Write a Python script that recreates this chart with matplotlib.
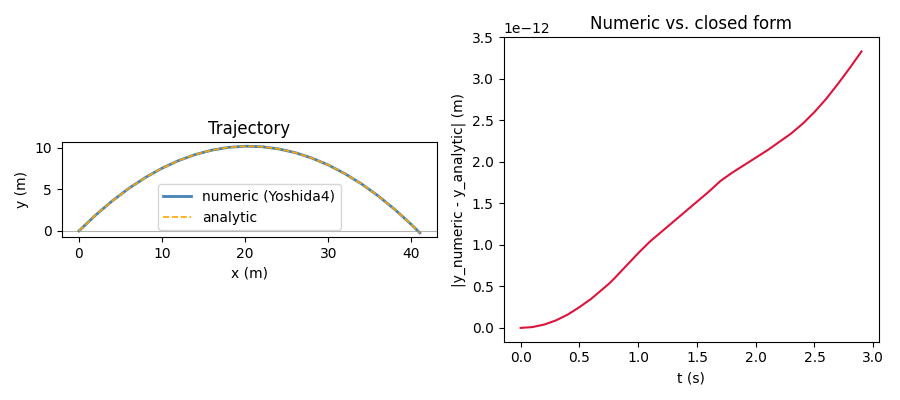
import matplotlib
matplotlib.use("Agg")
import matplotlib.pyplot as plt

# trajectory samples (m)
x_pos = [0, 2, 4, 6, 8, 10, 12, 14, 16, 18, 20, 22, 24, 26, 28, 30, 32, 34, 36, 38, 40, 41]
y_numeric = [0.0, 1.90, 3.61, 5.12, 6.43, 7.55, 8.47, 9.19, 9.72, 10.05, 10.19,
             10.13, 9.87, 9.42, 8.77, 7.93, 6.88, 5.65, 4.21, 2.58, 0.76, -0.23]
y_analytic = [0.0, 1.90, 3.61, 5.12, 6.43, 7.55, 8.47, 9.19, 9.72, 10.05, 10.19,
              10.13, 9.87, 9.42, 8.77, 7.93, 6.88, 5.65, 4.21, 2.58, 0.76, -0.23]

# absolute error vs time (units of 1e-12 m)
t_vals = [0.0, 0.1, 0.2, 0.3, 0.4, 0.5, 0.6, 0.7, 0.75, 0.8, 0.9, 1.0, 1.1, 1.2,
          1.3, 1.4, 1.5, 1.6, 1.7, 1.8, 1.9, 2.0, 2.1, 2.2, 2.3, 2.4, 2.5, 2.6,
          2.7, 2.8, 2.9]
err_vals = [0.0, 0.01, 0.04, 0.09, 0.16, 0.25, 0.35, 0.47, 0.53, 0.60, 0.75, 0.90,
            1.04, 1.16, 1.28, 1.40, 1.52, 1.64, 1.77, 1.87, 1.96, 2.05, 2.14, 2.24,
            2.34, 2.46, 2.60, 2.76, 2.94, 3.13, 3.33]

fig, (ax1, ax2) = plt.subplots(1, 2, figsize=(9, 4), dpi=100)

ax1.plot(x_pos, y_numeric, color="steelblue", lw=2, label="numeric (Yoshida4)")
ax1.plot(x_pos, y_analytic, color="orange", lw=1.2, ls="--", label="analytic")
ax1.axhline(0, color="gray", lw=0.8, alpha=0.6)
ax1.set_aspect("equal")
ax1.set_xlabel("x (m)")
ax1.set_ylabel("y (m)")
ax1.set_title("Trajectory")
ax1.legend()

ax2.plot(t_vals, [e * 1e-12 for e in err_vals], color="crimson", lw=1.5)
ax2.set_xlabel("t (s)")
ax2.set_ylabel("|y_numeric - y_analytic| (m)")
ax2.set_title("Numeric vs. closed form")
ax2.set_ylim(top=3.5e-12)

plt.tight_layout()
plt.savefig("out.png")
